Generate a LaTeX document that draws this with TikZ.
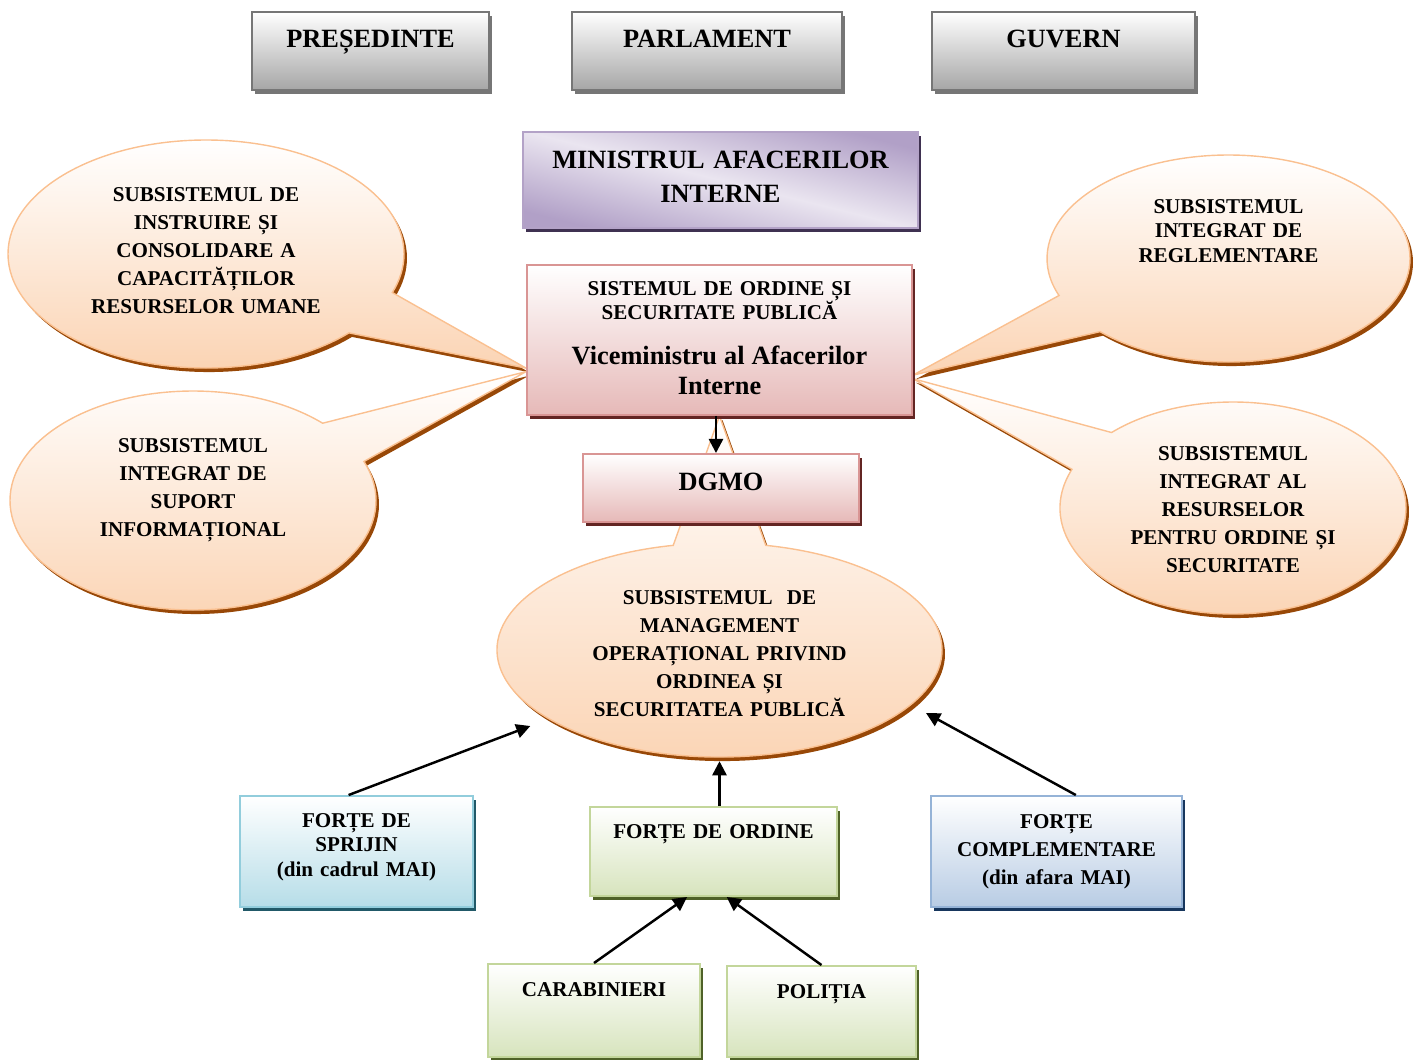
\documentclass[tikz,border=0pt]{standalone}
\usepackage{fontspec}
\setmainfont{Liberation Serif}
\usetikzlibrary{backgrounds}
\usetikzlibrary{arrows.meta}
\usetikzlibrary{shadows}
\usetikzlibrary{shapes.callouts}
\definecolor{grayedge}{HTML}{767676}
\definecolor{grayfill}{HTML}{A6A6A6}
\definecolor{lilacedge}{HTML}{B3A2C7}
\definecolor{lilacdark}{HTML}{B1A0C7}
\definecolor{lilaclight}{HTML}{EAE5F0}
\definecolor{lilacshade}{HTML}{3F3151}
\definecolor{roseedge}{HTML}{D99594}
\definecolor{rosefill}{HTML}{E6B9B8}
\definecolor{roseshade}{HTML}{632523}
\definecolor{peachedge}{HTML}{FAC090}
\definecolor{peachfill}{HTML}{FBD4B4}
\definecolor{peachshade}{HTML}{984807}
\definecolor{aquaedge}{HTML}{92CDDC}
\definecolor{aquafill}{HTML}{B6DDE8}
\definecolor{aquashade}{HTML}{215968}
\definecolor{steeledge}{HTML}{95B3D7}
\definecolor{steelfill}{HTML}{B8CCE4}
\definecolor{steelshade}{HTML}{17365D}
\definecolor{oliveedge}{HTML}{C3D69B}
\definecolor{olivefill}{HTML}{D7E4BD}
\definecolor{oliveshade}{HTML}{4F6228}
\newcommand{\pixel}{0.02cm}
\newcommand{\shadowdx}{1.7pt}
\newcommand{\shadowdy}{-2.3pt}
\newcommand{\smallfont}{\bfseries\fontsize{12}{14.2}\selectfont}
\newcommand{\bubblefont}{\bfseries\fontsize{12}{16}\selectfont}
\newcommand{\bigfont}{\bfseries\fontsize{15}{17}\selectfont}
\tikzset{
  box/.style={rectangle, line width=1.1pt, inner sep=0pt, align=center},
  boxwh/.style 2 args={minimum width=#1*\pixel, text width=#1*\pixel,
    minimum height=#2*\pixel},
  txtup/.style={text height=0pt, text depth=2*#1*\pixel},
  tint/.style n args={3}{draw=#1, top color=white, bottom color=#2,
    drop shadow={shadow xshift=\shadowdx, shadow yshift=\shadowdy,
      fill=#3, opacity=1}},
  bubble/.style={ellipse callout, callout pointer arc=24, inner sep=0pt,
    align=center, line width=0.8pt, font=\bubblefont,
    tint={peachedge}{peachfill}{peachshade}},
  oval/.style n args={3}{minimum width=#1*\pixel, minimum height=#2*\pixel,
    text width=#3*\pixel},
  arr/.style={-{Triangle[length=8pt,width=8pt]}, line width=1.4pt}
}
\begin{document}
\begin{tikzpicture}[x=\pixel, y=-\pixel, font=\smallfont]
  \useasboundingbox (0,0) rectangle (1417,1059);
  % top row
  \node[box, tint={grayedge}{grayfill}{grayedge}, boxwh={237}{78}, txtup=4,
    font=\bigfont] (pres) at (370.5,51) {PREȘEDINTE};
  \node[box, tint={grayedge}{grayfill}{grayedge}, boxwh={270}{78}, txtup=4,
    font=\bigfont] (parl) at (707,51) {PARLAMENT};
  \node[box, tint={grayedge}{grayfill}{grayedge}, boxwh={263}{78}, txtup=4,
    font=\bigfont] (guv) at (1063.5,51) {GUVERN};
  % ministry
  \node[box, draw=lilacedge, top color=lilacdark, bottom color=lilacdark,
    middle color=lilaclight, shading angle=-14,
    drop shadow={shadow xshift=\shadowdx, shadow yshift=\shadowdy,
      fill=lilacshade, opacity=1},
    boxwh={395}{96}, txtup=12, font=\bfseries\fontsize{15}{19.8}\selectfont]
    (min) at (720.5,180) {MINISTRUL AFACERILOR\\ INTERNE};
  \node[box, tint={roseedge}{rosefill}{roseshade}, boxwh={385}{150}, txtup=45]
    (sist) at (719.5,340) {SISTEMUL DE ORDINE ȘI\\ SECURITATE PUBLICĂ\\[8.5pt]
    \bigfont Viceministru al Afacerilor\\[3pt] Interne};
  \node[box, tint={roseedge}{rosefill}{roseshade}, boxwh={276}{68},
    text height=4*\pixel, text depth=0pt, font=\bigfont]
    (dgmo) at (721,488) {DGMO};
  % forces
  \node[box, tint={aquaedge}{aquafill}{aquashade}, boxwh={233}{111}, txtup=24.5]
    (sprijin) at (356.5,851.5) {FORȚE DE\\ SPRIJIN\\ (din cadrul MAI)};
  \node[box, tint={oliveedge}{olivefill}{oliveshade}, boxwh={247}{89}, txtup=13.5]
    (ordine) at (713.5,851.5) {FORȚE DE ORDINE};
  \node[box, tint={steeledge}{steelfill}{steelshade}, boxwh={251}{111}, txtup=23.5,
    font=\bubblefont]
    (compl) at (1056.5,851.5) {FORȚE\\ COMPLEMENTARE\\ (din afara MAI)};
  \node[box, tint={oliveedge}{olivefill}{oliveshade}, boxwh={212}{93}, txtup=14.5]
    (carab) at (594,1010.5) {CARABINIERI};
  \node[box, tint={oliveedge}{olivefill}{oliveshade}, boxwh={189}{91}, txtup=13.5]
    (polit) at (821.5,1011.5) {POLIȚIA};
  % subsystems
  \begin{scope}[on background layer]
    \node[bubble, oval={396}{228}{240}, txtup=53,
      callout absolute pointer={([yshift=-16pt]sist.west)}]
      (instruire) at (206,254) {SUBSISTEMUL DE\\ INSTRUIRE ȘI\\ CONSOLIDARE A\\
      CAPACITĂȚILOR\\ RESURSELOR UMANE};
    \node[bubble, oval={366}{219}{200}, txtup=48,
      callout absolute pointer={([yshift=-18pt]sist.west)}]
      (suport) at (193,500.5) {SUBSISTEMUL\\ INTEGRAT DE\\ SUPORT\\ INFORMAȚIONAL};
    \node[bubble, oval={363}{207}{200}, txtup=45.5, font=\smallfont,
      callout absolute pointer={([yshift=-20pt]sist.east)}]
      (reglem) at (1228.5,258.5) {SUBSISTEMUL\\ INTEGRAT DE\\ REGLEMENTARE};
    \node[bubble, oval={346}{212}{210}, txtup=48,
      callout absolute pointer={([yshift=-22pt]sist.east)}]
      (resurse) at (1233,508) {SUBSISTEMUL\\ INTEGRAT AL\\ RESURSELOR\\
      PENTRU ORDINE ȘI\\ SECURITATE};
    \node[bubble, oval={445}{214}{270}, txtup=46,
      callout absolute pointer={(sist.south)}]
      (mgmt) at (719.5,650) {SUBSISTEMUL\ \ DE\\ MANAGEMENT\\
      OPERAȚIONAL PRIVIND\\ ORDINEA ȘI\\ SECURITATEA PUBLICĂ};
  \end{scope}
  % arrows
  \draw[arr] ([xshift=-2pt]sist.south) -- ([xshift=-2pt]sist.south |- dgmo.north);
  \draw[arr, shorten >=11pt] ([xshift=-4.5pt]sprijin.north) -- (mgmt.202.6);
  \draw[arr, shorten >=2pt] (ordine.north -| mgmt.south) -- (mgmt.south);
  \draw[arr, shorten >=9.5pt] ([xshift=11pt]compl.north) -- (mgmt.344);
  \draw[arr] (carab.north) -- ([xshift=-15pt]ordine.south);
  \draw[arr] (polit.north) -- ([xshift=7.5pt]ordine.south);
\end{tikzpicture}
\end{document}
